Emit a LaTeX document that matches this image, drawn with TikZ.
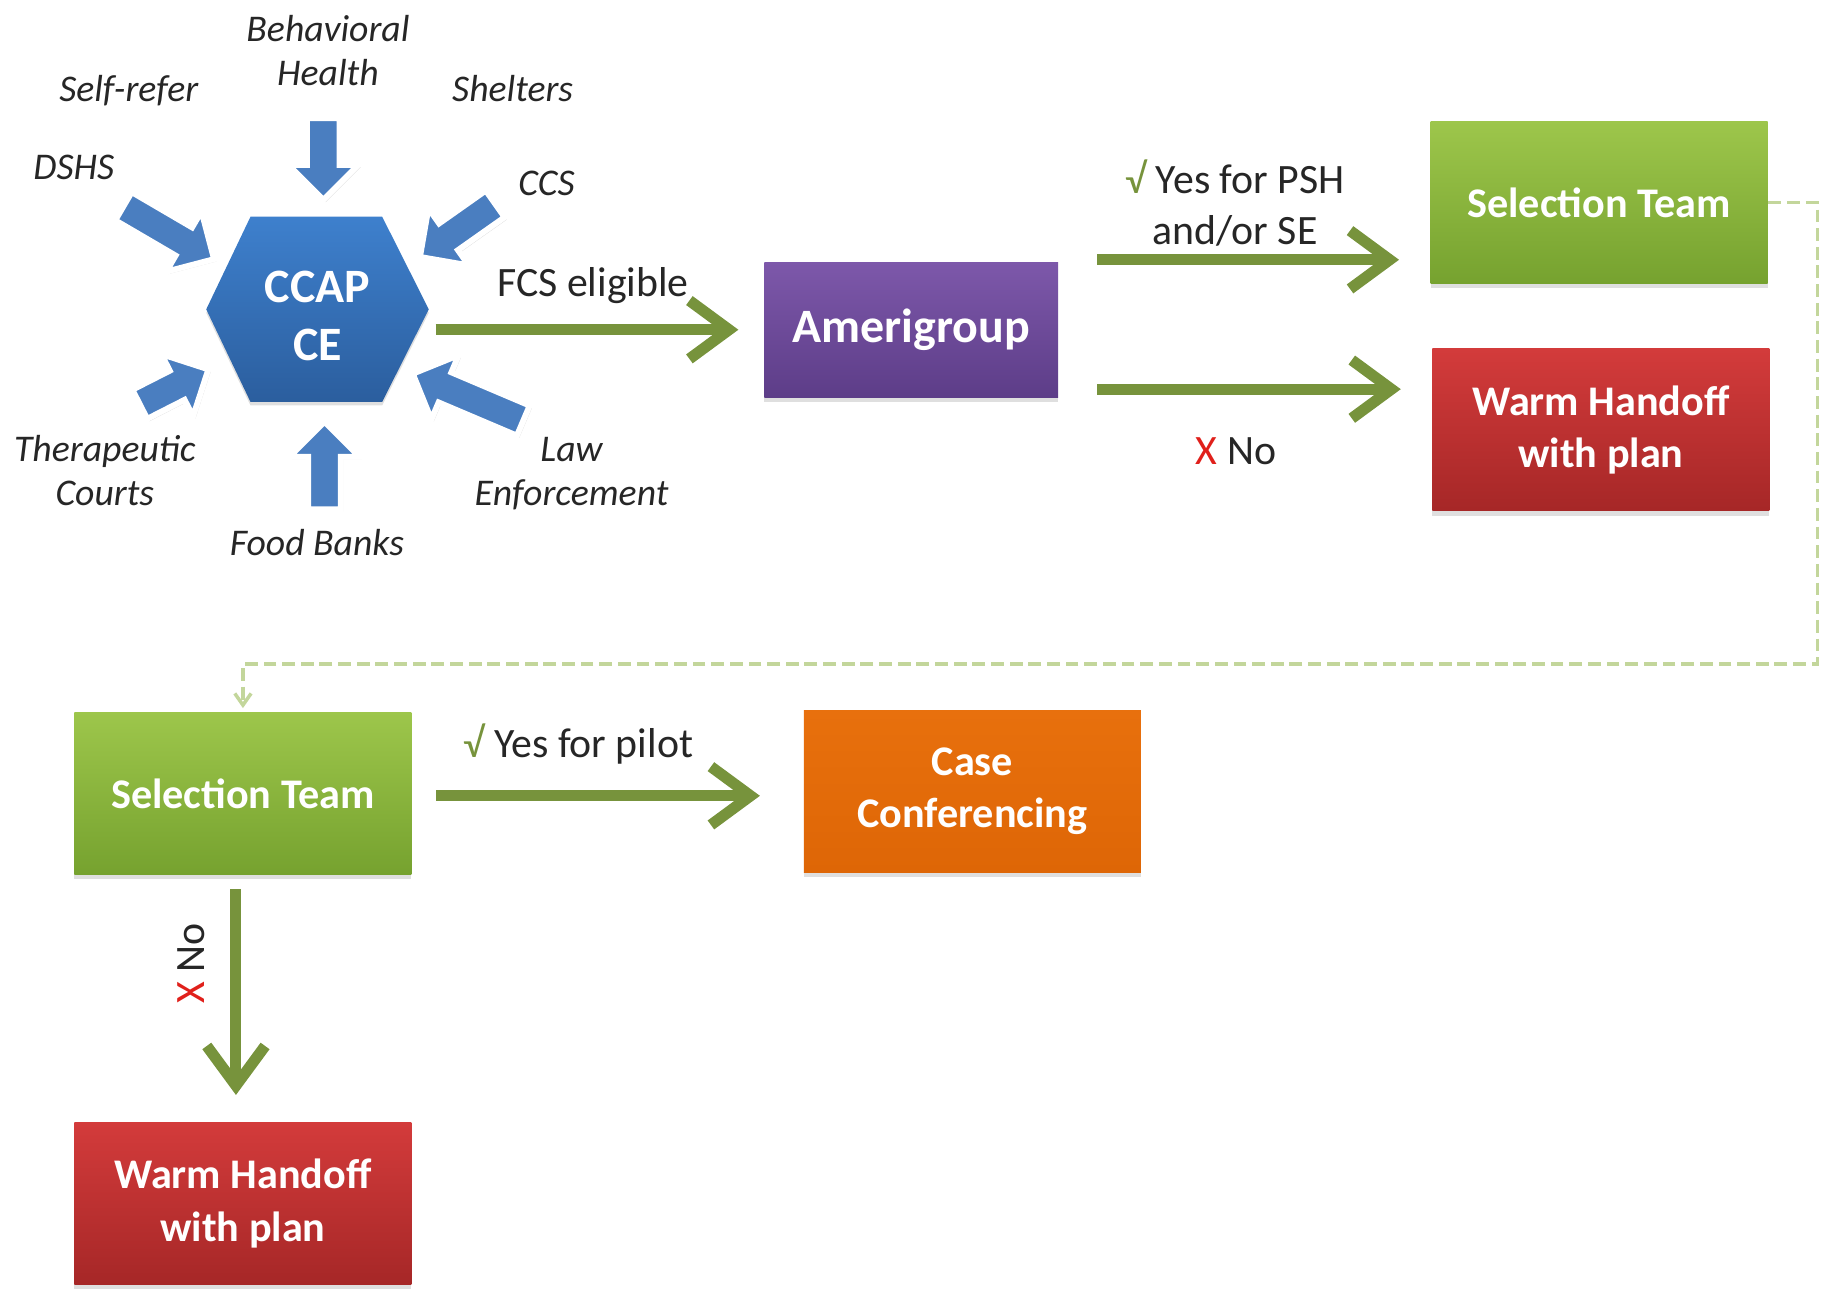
\documentclass[tikz,border=0pt]{standalone}
\usepackage{fontspec}
\setmainfont{Carlito}
\usetikzlibrary{arrows.meta, shadows, positioning}

\definecolor{flowgreen}{HTML}{77933C}
\definecolor{dashgreen}{HTML}{C3D69B}
\definecolor{arrowblue}{HTML}{4A7EC0}
\definecolor{hexTop}{HTML}{3E80CD}
\definecolor{hexBot}{HTML}{2B5E9E}
\definecolor{selTop}{HTML}{9DC64B}
\definecolor{selBot}{HTML}{76A22F}
\definecolor{amTop}{HTML}{7D58AA}
\definecolor{amBot}{HTML}{5D3D88}
\definecolor{warmTop}{HTML}{D33B3B}
\definecolor{warmBot}{HTML}{A62727}
\definecolor{caseTop}{HTML}{E8700D}
\definecolor{caseBot}{HTML}{DE6606}
\definecolor{labelgray}{HTML}{262626}
\definecolor{tickgreen}{HTML}{77933C}
\definecolor{nored}{HTML}{E0201B}

\newcommand{\boxtextfont}{\bfseries\fontsize{10.3}{12.8}\selectfont}
\newcommand{\bigtextfont}{\bfseries\fontsize{11.7}{14.2}\selectfont}
\newcommand{\sourcefont}{\itshape\fontsize{9.2}{10.8}\selectfont}
\newcommand{\edgefont}{\fontsize{10.2}{12.5}\selectfont}
\newcommand{\yesmark}{\textcolor{tickgreen}{√}}
\newcommand{\nomark}{\textcolor{nored}{X}}

\tikzset{
    box/.style={rectangle, minimum width=2.89cm, minimum height=1.39cm, inner sep=0pt,
        text=white, font=\boxtextfont, align=center,
        drop shadow={shadow xshift=0cm, shadow yshift=-0.04cm, opacity=0.25}},
    selbox/.style={box, top color=selTop, bottom color=selBot},
    warmbox/.style={box, top color=warmTop, bottom color=warmBot},
    casebox/.style={box, top color=caseTop, bottom color=caseBot},
    amerbox/.style={box, minimum width=2.52cm, minimum height=1.16cm, font=\bigtextfont,
        top color=amTop, bottom color=amBot},
    hexlabel/.style={rectangle, minimum width=1.91cm, minimum height=1.59cm, inner sep=0pt,
        text=white, font=\bigtextfont, align=center},
    flow/.style={draw=flowgreen, line width=0.095cm, -{Straight Barb[length=0.34cm, width=0.5cm]}},
    dashlink/.style={draw=dashgreen, line width=0.03cm, dash pattern=on 0.11cm off 0.05cm,
        -{Straight Barb[length=0.1cm, width=0.14cm]}},
    source/.style={font=\sourcefont, text=labelgray, align=center, inner sep=0pt},
    edgelabel/.style={font=\edgefont, text=labelgray, align=center, inner sep=0pt},
    pics/inarrow/.style={code={
        \fill[arrowblue, draw=white, line width=0.05cm,
            drop shadow={shadow xshift=0.02cm, shadow yshift=-0.02cm, opacity=0.3}]
            (0,-14) -- (#1-30,-14) -- (#1-30,-30) -- (#1,0) -- (#1-30,30) -- (#1-30,14) -- (0,14) -- cycle;
    }},
}

\begin{document}
\begin{tikzpicture}[x=0.01cm, y=-0.01cm]
\useasboundingbox (0,0) rectangle (1568,1107);

% referral sources round the hexagon
\shade[top color=hexTop, bottom color=hexBot,
    drop shadow={shadow xshift=0cm, shadow yshift=-0.03cm, opacity=0.25}]
    (177,265.5) -- (215,186) -- (328,186) -- (368,265.5) -- (328,345) -- (215,345) -- cycle;
\node[hexlabel] (ccap) at (272.5,271) {CCAP\\CE};

\pic (healthArrow) [rotate=-90] at (277.5,101.5) {inarrow=70};
\pic (foodArrow) [rotate=90] at (278.5,437) {inarrow=75};
\pic (dshsArrow) [rotate=-30.3] at (106,177) {inarrow=90};
\pic (ccsArrow) [rotate=-144.8] at (425,175) {inarrow=79};
\pic (courtsArrow) [rotate=27] at (120,347) {inarrow=66};
\pic (lawArrow) [rotate=157] at (449.1,361) {inarrow=103};

\node[source] (health) at (281.5,43.7) {Behavioral\\Health};
\node[source] (selfRefer) at (110.5,77.5) {Self-refer};
\node[source] (shelters) at (440,76) {Shelters};
\node[source] (dshs) at (63.3,144) {DSHS};
\node[source] (ccs) at (469,157) {CCS};
\node[source] (courts) at (90,404) {Therapeutic\\Courts};
\node[source] (law) at (490.5,406.5) {Law\\Enforcement};
\node[source] (food) at (272,466) {Food Banks};

% boxes
\node[amerbox] (ameri) at (782,283) {Amerigroup};
\node[selbox] (sel1) at (1372.5,174) {Selection Team};
\node[warmbox] (warm1) at (1374,369) {Warm Handoff\\with plan};
\node[selbox] (sel2) at (208.5,681) {Selection Team};
\node[casebox] (case) at (834.5,679) {Case\\Conferencing};
\node[warmbox] (warm2) at (208.5,1033) {Warm Handoff\\with plan};

% connectors
\draw[flow, shorten <=0.05cm, shorten >=0.215cm] (ccap.east |- ameri.west)
    -- node[edgelabel, xshift=-0.03cm, yshift=0.38cm] (fcsLabel) {FCS eligible} (ameri.west);

\coordinate (yesStart) at ([yshift=0.6cm]ameri.east);
\coordinate (noStart) at ([yshift=-0.51cm]ameri.east);
\draw[flow, shorten <=0.33cm, shorten >=0.265cm] (yesStart)
    -- node[edgelabel, xshift=-0.08cm, yshift=0.49cm] (yesPSH) {\yesmark{} Yes for PSH\\and/or SE} (yesStart -| sel1.west);
\draw[flow, shorten <=0.33cm, shorten >=0.265cm] (noStart)
    -- node[edgelabel, xshift=-0.08cm, yshift=-0.535cm] (noPSH) {\nomark{} No} (noStart -| warm1.west);

\draw[flow, shorten <=0.205cm, shorten >=0.37cm] ([yshift=-0.02cm]sel2.east)
    -- node[edgelabel, xshift=-0.25cm, yshift=0.44cm] (yesPilot) {\yesmark{} Yes for pilot} ([yshift=-0.02cm]sel2.east -| case.west);
\draw[flow, shorten <=0.12cm, shorten >=0.23cm] ([xshift=-0.06cm]sel2.south)
    -- node[edgelabel, xshift=-0.385cm, yshift=0.3cm, rotate=90] (noPilot) {\nomark{} No} ([xshift=-0.06cm]warm2.north);

\coordinate (loopCorner) at (1560,570);
\draw[dashlink, shorten >=0.03cm] (sel1.east) -| (loopCorner) -| (sel2.north);

\end{tikzpicture}
\end{document}
